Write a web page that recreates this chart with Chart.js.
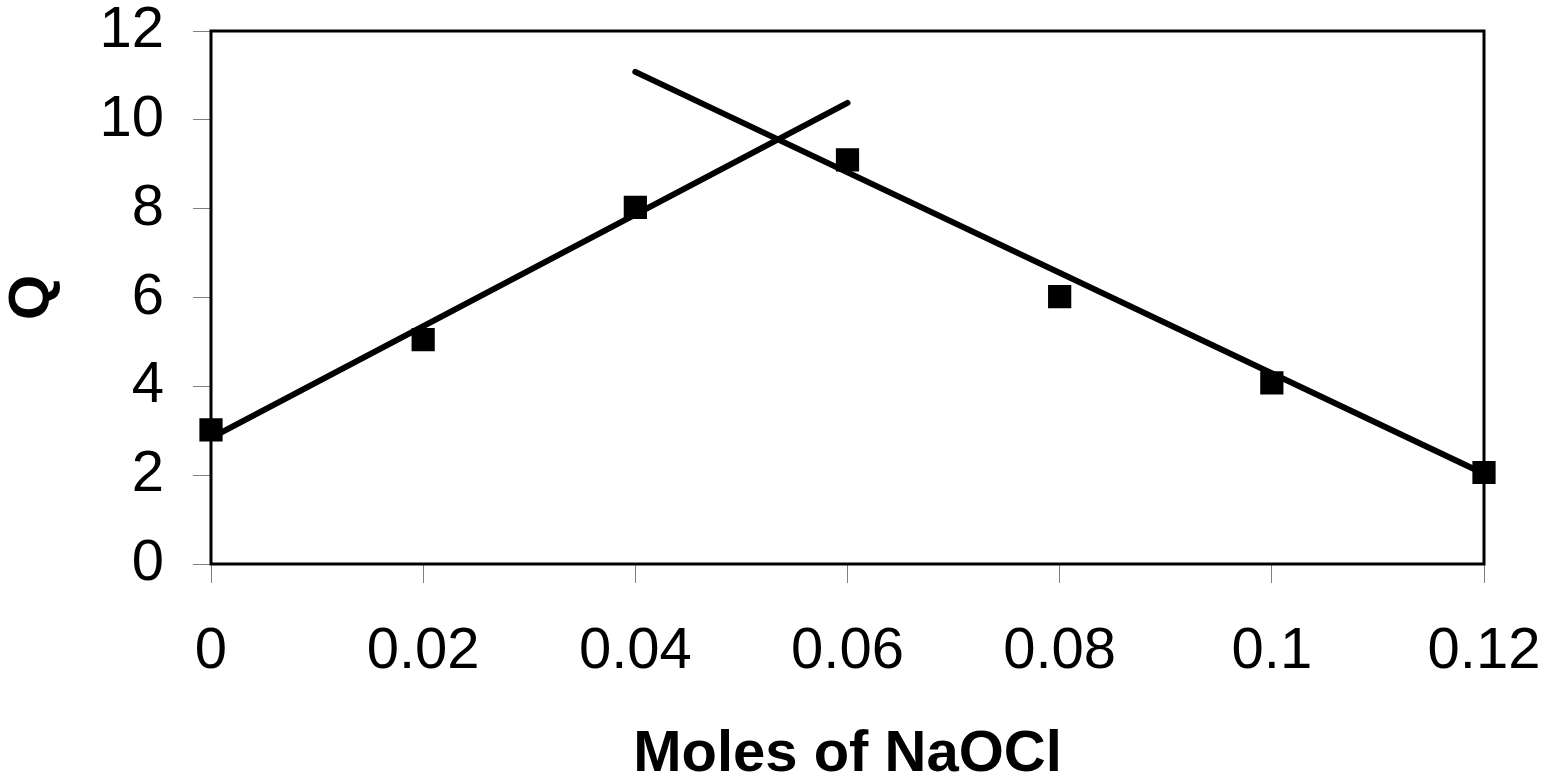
<!DOCTYPE html>
<html><head><meta charset="utf-8">
<script src="https://cdn.jsdelivr.net/npm/chart.js@4"></script>
<style>html,body{margin:0;padding:0;background:#fff;overflow:hidden;} #wrap{width:1546px;height:779px;position:relative;}</style>
</head><body><div id="wrap"><canvas id="c"></canvas></div>
<script>
const molesX = [0, 0.02, 0.04, 0.06, 0.08, 0.1, 0.12];
const qValues = [3.02, 5.05, 8.03, 9.1, 6.02, 4.08, 2.06];
const fitRisingX = [0, 0.06];
const fitRisingY = [2.84, 10.38];
const fitFallingX = [0.04, 0.12];
const fitFallingY = [11.08, 2.03];
const xTickLabels = ['0', '0.02', '0.04', '0.06', '0.08', '0.1', '0.12'];
const yTickLabels = ['0', '2', '4', '6', '8', '10', '12'];

const FONT = '"Liberation Sans", Arial, Helvetica, sans-serif';

const framePlugin = {
  id: 'frame',
  beforeDatasetsDraw(chart) {
    const {ctx, chartArea: a} = chart;
    ctx.save();
    ctx.strokeStyle = '#000';
    ctx.lineWidth = 3;
    ctx.strokeRect(a.left, a.top, a.right - a.left, a.bottom - a.top);
    ctx.restore();
  }
};

const noPad = (s) => { s.paddingTop = 0; s.paddingBottom = 0; s.paddingLeft = 0; s.paddingRight = 0; };
const pts = (xs, ys) => xs.map((x, i) => ({x: x, y: ys[i]}));

new Chart(document.getElementById('c'), {
  type: 'scatter',
  data: {
    datasets: [
      {
        type: 'line', data: pts(fitRisingX, fitRisingY), borderColor: '#000', borderWidth: 6,
        borderCapStyle: 'round', pointRadius: 0, fill: false, clip: false
      },
      {
        type: 'line', data: pts(fitFallingX, fitFallingY), borderColor: '#000', borderWidth: 6,
        borderCapStyle: 'round', pointRadius: 0, fill: false, clip: false
      },
      {
        data: pts(molesX, qValues), pointStyle: 'rect', pointRadius: 15, pointHoverRadius: 15,
        backgroundColor: '#000', borderColor: '#000', borderWidth: 2, clip: false
      }
    ]
  },
  options: {
    responsive: true, maintainAspectRatio: false, animation: false,
    events: [],
    layout: {autoPadding: false, padding: {top: 31, right: 62, left: 0, bottom: 0}},
    plugins: {legend: {display: false}, tooltip: {enabled: false}},
    scales: {
      x: {
        type: 'linear', min: 0, max: 0.12,
        afterFit(s) { s.height = 215; noPad(s); },
        afterBuildTicks(s) { s.ticks = molesX.map(v => ({value: v})); },
        ticks: {
          callback: (v, i) => xTickLabels[i],
          font: {family: FONT, size: 58}, color: '#000', padding: 34, maxRotation: 0, autoSkip: false
        },
        grid: {drawOnChartArea: false, drawTicks: true, tickLength: 19, color: '#808080', lineWidth: 1},
        border: {display: false},
        title: {display: true, text: 'Moles of NaOCl', color: '#000',
          font: {family: FONT, size: 58, weight: 'bold', lineHeight: '48px'}, padding: 0}
      },
      y: {
        min: 0, max: 12,
        afterFit(s) { s.width = 211; noPad(s); },
        afterBuildTicks(s) { s.ticks = yTickLabels.map(v => ({value: Number(v)})); },
        ticks: {
          callback: (v, i) => yTickLabels[i],
          font: {family: FONT, size: 58}, color: '#000', padding: 29
        },
        grid: {drawOnChartArea: false, drawTicks: true, tickLength: 18, color: '#808080', lineWidth: 1},
        border: {display: false},
        title: {display: true, text: 'Q', color: '#000',
          font: {family: FONT, size: 58, weight: 'bold', lineHeight: '66px'}, padding: 0}
      }
    }
  },
  plugins: [framePlugin]
});
</script>
</body></html>
